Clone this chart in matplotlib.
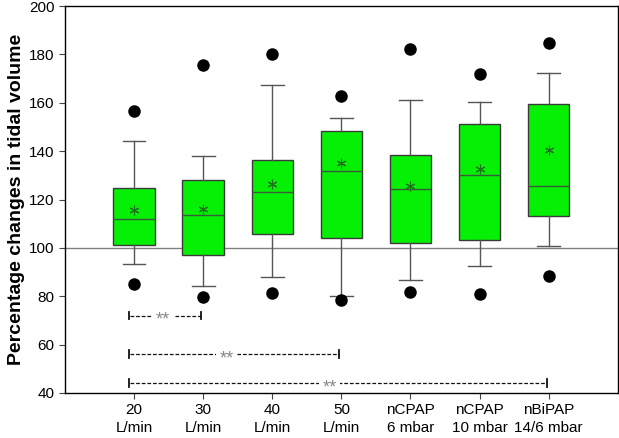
import matplotlib
matplotlib.use("Agg")
import matplotlib.pyplot as plt

plt.rcParams["font.family"] = ["Liberation Sans", "DejaVu Sans"]

# values
groups = ["20\nL/min", "30\nL/min", "40\nL/min", "50\nL/min",
          "nCPAP\n6 mbar", "nCPAP\n10 mbar", "nBiPAP\n14/6 mbar"]
whisker_low = [93.2, 84.4, 88.0, 80.0, 86.6, 92.5, 100.8]
q1 = [101.2, 97.2, 105.6, 104.2, 102.2, 103.3, 113.2]
median = [112.1, 113.6, 123.1, 131.7, 124.2, 130.3, 125.7]
q3 = [124.9, 128.1, 136.2, 148.2, 138.3, 151.2, 159.4]
whisker_high = [144.2, 138.0, 167.2, 153.6, 161.1, 160.3, 172.4]
mean = [115.7, 116.0, 126.4, 135.0, 125.7, 132.6, 140.3]
outlier_low = [85.0, 79.8, 81.4, 78.5, 81.9, 81.1, 88.5]
outlier_high = [156.6, 175.6, 180.2, 162.7, 182.1, 172.0, 184.6]

# significance brackets: (from group, to group, y level, label x)
sig_start = [1, 1, 1]
sig_end = [2, 4, 7]
sig_y = [72, 56, 44]
sig_label_x = [1.42, 2.34, 3.83]

stats = []
for i in range(len(groups)):
    stats.append({
        "whislo": whisker_low[i], "q1": q1[i], "med": median[i],
        "q3": q3[i], "whishi": whisker_high[i], "mean": mean[i],
        "fliers": [outlier_low[i], outlier_high[i]],
    })

fig = plt.figure(figsize=(6.19, 4.38), dpi=100)
ax = fig.add_axes([0.105, 0.103, 0.893, 0.883])

ax.axhline(100, color="#808080", linewidth=1, zorder=1)

positions = list(range(1, len(groups) + 1))
ax.bxp(stats, positions=positions, widths=0.6, patch_artist=True,
       showmeans=True, showfliers=True,
       boxprops=dict(facecolor="#05f005", edgecolor="#3a3a3a", linewidth=1),
       medianprops=dict(color="#3a5a3a", linewidth=1),
       whiskerprops=dict(color="#555555", linewidth=1),
       capprops=dict(color="#555555", linewidth=1),
       capwidths=0.33,
       meanprops=dict(marker=(6, 2, 0), markersize=7, markeredgecolor="#1f6f1f",
                      markerfacecolor="#1f6f1f", markeredgewidth=0.8),
       flierprops=dict(marker="o", markersize=8, markerfacecolor="black",
                       markeredgecolor="black"),
       zorder=2)

for x0, x1, y, lx in zip(sig_start, sig_end, sig_y, sig_label_x):
    ax.plot([x0 - 0.06, x1 - 0.03], [y, y], color="#111111", linewidth=0.9,
            dashes=(3, 1.5), zorder=2)
    ax.plot([x0 - 0.07, x0 - 0.07], [y - 1.6, y + 1.6], color="#111111", linewidth=1.3)
    ax.plot([x1 - 0.03, x1 - 0.03], [y - 1.6, y + 1.6], color="#111111", linewidth=1.3)
    ax.text(lx, y - 2.0, "**", ha="center", va="center", fontsize=13,
            color="#888888", zorder=3,
            bbox=dict(facecolor="white", edgecolor="none", pad=2.5))

ax.set_xlim(0, 8)
ax.set_ylim(40, 200)
ax.set_yticks(range(40, 201, 20))
ax.set_xticks(positions)
ax.set_xticklabels(groups, linespacing=1.3)
ax.tick_params(axis="both", labelsize=11, direction="out", length=4,
               color="#444444")
ax.set_ylabel("Percentage changes in tidal volume", fontsize=14,
              fontweight="bold", labelpad=3)
for spine in ax.spines.values():
    spine.set_linewidth(1)
    spine.set_zorder(5)

fig.savefig("out.png", dpi=100)
